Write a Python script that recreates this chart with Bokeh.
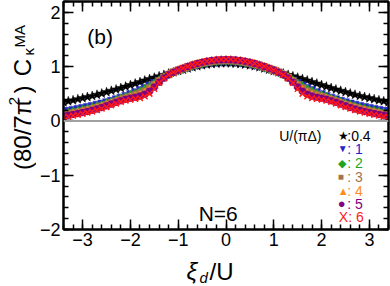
import numpy as np
from bokeh.plotting import figure
from bokeh.layouts import column, row
from bokeh.models import Label, Span, LinearAxis, SingleIntervalTicker, CustomJSTickFormatter, Range1d
from bokeh.embed import file_html
from bokeh.resources import INLINE

# ---- data (curves are symmetric in xi_d/U; values listed for xi >= 0) ----
xi_half = [0.0, 0.1, 0.2, 0.3, 0.4, 0.5, 0.6, 0.7, 0.8, 0.9, 1.0, 1.1, 1.2, 1.3, 1.4, 1.5, 1.6,
           1.7, 1.8, 1.9, 2.0, 2.1, 2.2, 2.3, 2.4, 2.5, 2.6, 2.7, 2.8, 2.9, 3.0, 3.1, 3.2, 3.3, 3.4]
c_u04 = [1.065, 1.063, 1.058, 1.050, 1.040, 1.026, 1.010, 0.990, 0.968, 0.945, 0.922, 0.898, 0.873,
         0.848, 0.822, 0.797, 0.771, 0.745, 0.715, 0.688, 0.660, 0.632, 0.605, 0.580, 0.555, 0.530,
         0.505, 0.482, 0.460, 0.440, 0.420, 0.400, 0.380, 0.362, 0.345]
c_u1 = [1.090, 1.088, 1.082, 1.073, 1.061, 1.045, 1.026, 1.004, 0.980, 0.954, 0.927, 0.898, 0.866,
        0.810, 0.765, 0.720, 0.675, 0.630, 0.590, 0.550, 0.515, 0.482, 0.450, 0.420, 0.392, 0.366,
        0.342, 0.320, 0.298, 0.278, 0.259, 0.241, 0.224, 0.208, 0.193]
c_u2 = [1.105, 1.103, 1.097, 1.087, 1.074, 1.057, 1.037, 1.013, 0.987, 0.958, 0.928, 0.895, 0.857,
        0.810, 0.755, 0.695, 0.640, 0.592, 0.552, 0.512, 0.480, 0.448, 0.416, 0.385, 0.355, 0.327,
        0.300, 0.275, 0.252, 0.230, 0.210, 0.191, 0.173, 0.156, 0.140]
c_u3 = [1.115, 1.113, 1.107, 1.097, 1.083, 1.066, 1.045, 1.021, 0.994, 0.964, 0.932, 0.897, 0.855,
        0.800, 0.735, 0.665, 0.600, 0.548, 0.508, 0.478, 0.445, 0.418, 0.390, 0.360, 0.330, 0.300,
        0.272, 0.246, 0.222, 0.200, 0.180, 0.161, 0.144, 0.128, 0.113]
c_u4 = [1.125, 1.123, 1.117, 1.107, 1.093, 1.075, 1.053, 1.028, 1.000, 0.969, 0.936, 0.899, 0.855,
        0.795, 0.722, 0.642, 0.570, 0.515, 0.478, 0.452, 0.432, 0.410, 0.384, 0.354, 0.322, 0.291,
        0.262, 0.235, 0.211, 0.189, 0.169, 0.150, 0.133, 0.117, 0.103]
c_u5 = [1.130, 1.128, 1.122, 1.112, 1.098, 1.079, 1.057, 1.031, 1.002, 0.970, 0.936, 0.898, 0.852,
        0.790, 0.712, 0.625, 0.548, 0.492, 0.458, 0.436, 0.420, 0.400, 0.374, 0.344, 0.310, 0.278,
        0.248, 0.221, 0.197, 0.175, 0.155, 0.137, 0.120, 0.104, 0.090]
c_u6 = [1.135, 1.133, 1.127, 1.117, 1.102, 1.083, 1.060, 1.034, 1.004, 0.971, 0.936, 0.897, 0.850,
        0.785, 0.700, 0.590, 0.500, 0.450, 0.420, 0.405, 0.390, 0.373, 0.350, 0.320, 0.288, 0.256,
        0.226, 0.198, 0.173, 0.151, 0.131, 0.113, 0.096, 0.080, 0.066]

u_labels = ["0.4", "1", "2", "3", "4", "5", "6"]
x_ticks = [-3, -2, -1, 0, 1, 2, 3]
y_ticks = [-2, -1, 0, 1, 2]


def full_x(h):
    return [-v for v in h[:0:-1]] + list(h)


def full_y(h):
    return list(h[:0:-1]) + list(h)


xi = full_x(xi_half)

FONT = "Liberation Sans"

# ---- layout sizes (page pixels) ----
TOTAL_W, TOTAL_H = 390, 286
YL_W = 36           # y-title strip
MAIN_H = 253        # main plot height
XL_H = TOTAL_H - MAIN_H

# ---- main figure ----
p = figure(width=TOTAL_W - YL_W, height=MAIN_H, output_backend="svg", toolbar_location=None,
           x_range=Range1d(-3.4, 3.4), y_range=Range1d(-2.0, 2.2),
           min_border_left=25, min_border_right=2, min_border_top=1, min_border_bottom=24)
p.background_fill_color = "white"
p.border_fill_color = "white"
p.outline_line_color = "black"
p.outline_line_width = 2
p.xgrid.visible = False
p.ygrid.visible = False

fmt = CustomJSTickFormatter(code="return tick < 0 ? '\u2212' + Math.abs(tick) : '' + tick;")
blank = CustomJSTickFormatter(code="return '';")


def style_axis(ax, show_labels):
    ax.axis_line_width = 2
    ax.axis_line_color = "black"
    ax.major_tick_in = 10
    ax.major_tick_out = 0
    ax.minor_tick_in = 5
    ax.minor_tick_out = 0
    ax.major_tick_line_width = 1.5
    ax.minor_tick_line_width = 1.5
    ax.major_tick_line_color = "black"
    ax.minor_tick_line_color = "black"
    if show_labels:
        ax.major_label_text_font = FONT
        ax.major_label_text_font_size = "18px"
        ax.major_label_text_color = "black"
        ax.major_label_standoff = 3
        ax.formatter = fmt
    else:
        ax.formatter = blank
        ax.major_label_standoff = 0


p.xaxis.ticker = SingleIntervalTicker(interval=1, num_minor_ticks=5)
p.yaxis.ticker = SingleIntervalTicker(interval=1, num_minor_ticks=5)
style_axis(p.xaxis[0], True)
style_axis(p.yaxis[0], True)

top_ax = LinearAxis(ticker=SingleIntervalTicker(interval=1, num_minor_ticks=5))
right_ax = LinearAxis(ticker=SingleIntervalTicker(interval=1, num_minor_ticks=5))
style_axis(top_ax, False)
style_axis(right_ax, False)
p.add_layout(top_ax, "above")
p.add_layout(right_ax, "right")

p.add_layout(Span(location=0, dimension="width", line_color="#a0a0a0", line_width=2))

# ---- series ----
series = [
    (c_u04, "star", "#000000", 10),
    (c_u1, "inverted_triangle", "#2424c8", 8),
    (c_u2, "diamond", "#1fa51f", 9),
    (c_u3, "square", "#a5734a", 7),
    (c_u4, "triangle", "#ff8c1a", 8),
    (c_u5, "circle", "#800080", 7),
    (c_u6, "x", "#ff1a1a", 8),
]
for vals, mk, col, sz in series:
    yy = full_y(vals)
    if mk == "x":
        p.scatter(xi, yy, marker=mk, size=sz, line_color=col, line_width=1.5)
    else:
        p.scatter(xi, yy, marker=mk, size=sz, fill_color=col, line_color=col, line_width=0.5)


# ---- in-frame annotations (positions given in reference pixels, mapped to data) ----
def dx(px):
    return (px - 224.5) / 48.09


def dy(py):
    return (120.4 - py) / 54.29


def lab(fig, x, y, text, size, color="black", baseline="alphabetic", angle=0.0, style="normal"):
    fig.add_layout(Label(x=x, y=y, text=text, text_font=FONT, text_font_size=size,
                         text_color=color, text_align="left", text_baseline=baseline,
                         angle=angle, text_font_style=style))


lab(p, dx(85), dy(36), "(b)", "21px", baseline="middle")
lab(p, dx(197), dy(213), "N=6", "21px")

lab(p, dx(278), dy(135.5), "U/(\u03c0\u0394)", "14px", baseline="middle")
rows = [135, 148.3, 162.7, 176, 190, 203.3, 216.7]
syms = ["\u2605", "\u25bc", "\u25c6", "\u25a0", "\u25b2", "\u25cf"]
sym_sizes = ["12px", "10px", "11px", "10px", "11px", "13px"]
cols = [s[2] for s in series]
for i in range(6):
    lab(p, dx(337), dy(rows[i]), syms[i], sym_sizes[i], color=cols[i], baseline="middle")
    txt = ":" + u_labels[i] if i == 0 else ": " + u_labels[i]
    lab(p, dx(346.5), dy(rows[i]), txt, "14px", color=cols[i], baseline="middle")
lab(p, dx(338), dy(rows[6]), "X: " + u_labels[6], "14px", color=cols[6], baseline="middle")


# ---- helper strips for the axis titles (page-pixel coordinates) ----
def strip(w, h):
    f = figure(width=w, height=h, output_backend="svg", toolbar_location=None,
               x_range=Range1d(0, w), y_range=Range1d(0, h), min_border=0,
               x_axis_type=None, y_axis_type=None)
    f.outline_line_color = None
    f.xgrid.visible = False
    f.ygrid.visible = False
    f.background_fill_color = "white"
    f.border_fill_color = "white"
    return f


# y title: (80/7 pi^2) C_kappa^MA, rotated; strip covers page x 0..36, y 0..253
ys = strip(YL_W, MAIN_H)
A = np.pi / 2


def ylab(ix, iy, text, size):
    lab(ys, ix, MAIN_H - iy, text, size, angle=A)


ylab(22, 187, "(80/7\u03c0", "24px")
ylab(13, 115, "2", "15px")
ylab(22, 102, ")", "24px")
ylab(22, 83, "C", "24px")
ylab(28, 60, "\u03ba", "15px")
ylab(19, 51, "MA", "15px")

# x title: xi_d / U; strip covers page x 0..390, y 253..286
xs = strip(TOTAL_W, XL_H)


def xlab(ix, iy, text, size, style="normal"):
    lab(xs, ix, XL_H - (iy - MAIN_H), text, size, style=style)


xlab(186, 271, "\u03be", "24px", style="italic")
xlab(199, 277, "d", "15px", style="italic")
xlab(209, 271, "/U", "24px")

layout = column(row(ys, p, spacing=0), xs, spacing=0)

open("out.html", "w").write(file_html(layout, INLINE))
